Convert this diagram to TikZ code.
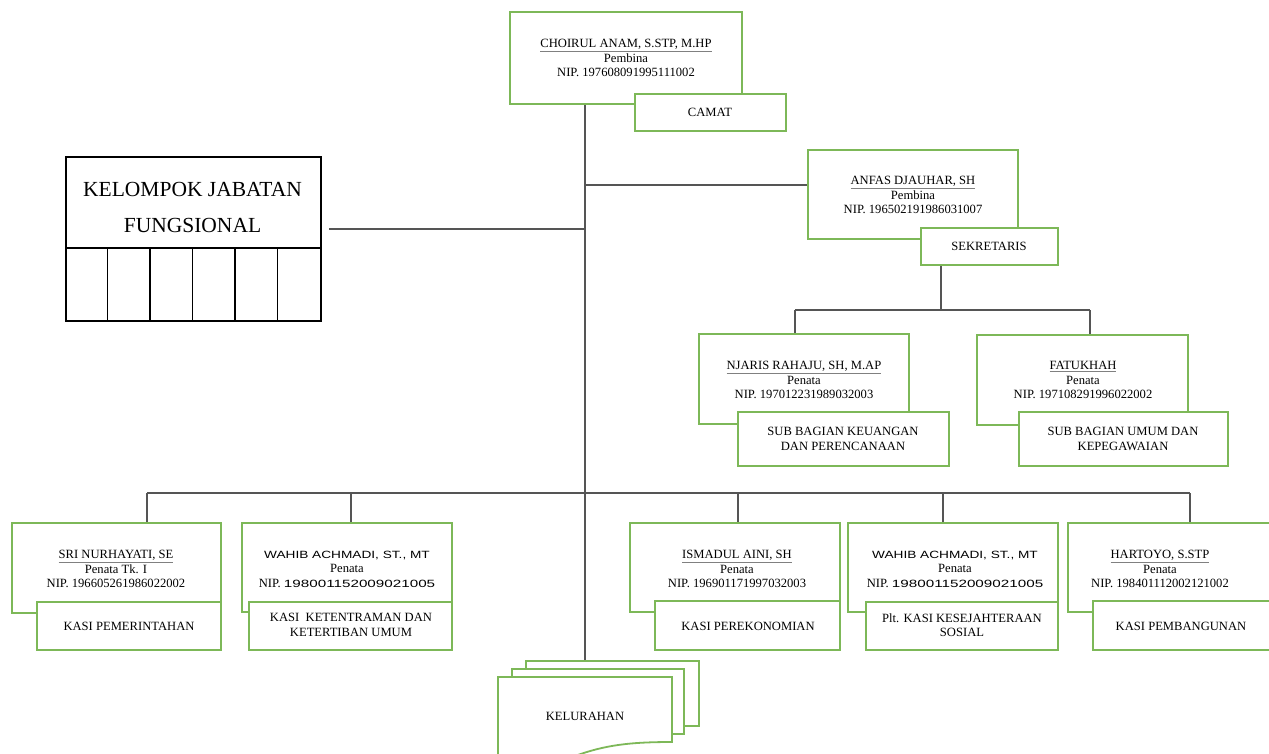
\documentclass[tikz,border=0pt]{standalone}
\usepackage{fontspec}
\setmainfont{Liberation Serif}
\newfontfamily\wsans[FakeStretch=1.3]{Liberation Sans}
\newfontfamily\wdig[FakeStretch=1.45]{Liberation Sans}
\definecolor{boxgreen}{HTML}{7DB858}
\definecolor{linegray}{HTML}{555555}
\definecolor{ulgray}{HTML}{808080}
\newcommand{\nameul}[1]{\textcolor{ulgray}{\underline{\textcolor{black}{#1}}}}
\newcommand{\orgbox}[5]{\node[gbox, minimum width={(#4-#2)*1pt}, minimum height={(#5-#3)*1pt}] (#1) at (#2,#3) {};}
\tikzset{
  gbox/.style={draw=boxgreen, line width=1.8pt, fill=white, inner sep=0pt, outer sep=0pt, anchor=north west},
  conn/.style={draw=linegray, line width=1.4pt},
  ptext/.style={align=center, inner sep=0pt, font=\fontsize{12.6}{14.5}\selectfont},
  fbig/.style={align=center, inner sep=0pt, font=\fontsize{21.5}{36}\selectfont},
  page/.style={draw=boxgreen, line width=1.8pt, fill=white},
}
\begin{document}
\begin{tikzpicture}[x=1pt,y=-1pt]
\clip (0,0) rectangle (1269,753);
\fill[white] (0,0) rectangle (1269,753);

% named junction coordinates
\coordinate (top) at (585,104);
\coordinate (jA) at (585,185);
\coordinate (jF) at (585,229);
\coordinate (fl) at (329,229);
\coordinate (busL) at (147,493);
\coordinate (busR) at (1190,493);
\coordinate (kel) at (585,661);
\coordinate (sekJ) at (941,310);
\coordinate (sekL) at (795,310);
\coordinate (sekR) at (1090,310);
\coordinate (b1) at (147,493);
\coordinate (b2) at (351,493);
\coordinate (b3) at (738,493);
\coordinate (b4) at (943,493);
\coordinate (b5) at (1190,493);

% connectors
\draw[conn] (top) -- (kel);
\draw[conn] (jA) -- (808,185) coordinate (anfasW);
\draw[conn] (fl) -- (jF);
\draw[conn] (busL) -- (busR);
\draw[conn] (941,265) coordinate (sekB) -- (sekJ);
\draw[conn] (sekL) -- (sekR);
\draw[conn] (sekL) -- (795,334) coordinate (njT);
\draw[conn] (sekR) -- (1090,335) coordinate (faT);
\draw[conn] (b1) -- (147,523) coordinate (t1);
\draw[conn] (b2) -- (351,523) coordinate (t2);
\draw[conn] (b3) -- (738,523) coordinate (t3);
\draw[conn] (b4) -- (943,523) coordinate (t4);
\draw[conn] (b5) -- (1190,523) coordinate (t5);

% KELOMPOK JABATAN FUNGSIONAL
\node[draw=black, line width=1.8pt, inner sep=0pt, anchor=north west, minimum width=255pt, minimum height=164pt] (kjf) at (65,156) {};
\draw[black, line width=1.8pt] (65,248) coordinate (kd1) -- (320,248) coordinate (kd2);
\foreach \xx in {107.5,150,192.5,235,277.5} {\draw[black, line width=1.8pt] (\xx,248) -- (\xx,320);}
\node[fbig] (kjftext) at (192.5,207) {KELOMPOK JABATAN\\FUNGSIONAL};

% boxes
\orgbox{chief}{510}{12}{742}{104}
\orgbox{camat}{635}{94}{786}{131}
\orgbox{anfas}{808}{150}{1018}{239}
\orgbox{sekr}{921}{228}{1058}{265}
\orgbox{njaris}{699}{334}{909}{424}
\orgbox{subkeu}{738}{412}{949}{466}
\orgbox{fatukhah}{977}{335}{1188}{425}
\orgbox{subumum}{1019}{412}{1228}{466}
\orgbox{sri}{12}{523}{221}{613}
\orgbox{kasipem}{37}{602}{221}{650}
\orgbox{wahibA}{242}{523}{452}{612}
\orgbox{kasiket}{249}{602}{452}{650}
\orgbox{ismadul}{630}{523}{840}{612}
\orgbox{kasiper}{655}{601}{840}{650}
\orgbox{wahibB}{848}{523}{1058}{612}
\orgbox{kasikes}{866}{602}{1058}{650}
\orgbox{hartoyo}{1068}{523}{1285}{612}
\orgbox{kasipemb}{1093}{601}{1285}{650}

% texts in person boxes
\node[ptext] (tchief) at (626,58) {\nameul{CHOIRUL ANAM, S.STP, M.HP}\\Pembina\\NIP. 197608091995111002};
\node[ptext] (tanfas) at (913,195) {\nameul{ANFAS DJAUHAR, SH}\\Pembina\\NIP. 196502191986031007};
\node[ptext] (tnjaris) at (804,380) {\nameul{NJARIS RAHAJU, SH, M.AP}\\Penata\\NIP. 197012231989032003};
\node[ptext] (tfatukhah) at (1083,380) {\nameul{FATUKHAH}\\Penata\\NIP. 197108291996022002};
\node[ptext] (tsri) at (116,569) {\nameul{SRI NURHAYATI, SE}\\Penata Tk. I\\NIP. 196605261986022002};
\node[ptext] (twahibA) at (347,569) {{\fontsize{10.5}{14.5}\wsans WAHIB ACHMADI, ST., MT}\\Penata\\NIP. {\fontsize{10.5}{14.5}\wdig 198001152009021005}};
\node[ptext] (tismadul) at (737,569) {\nameul{ISMADUL AINI, SH}\\Penata\\NIP. 196901171997032003};
\node[ptext] (twahibB) at (955,569) {{\fontsize{10.5}{14.5}\wsans WAHIB ACHMADI, ST., MT}\\Penata\\NIP. {\fontsize{10.5}{14.5}\wdig 198001152009021005}};
\node[ptext] (thartoyo) at (1160,569) {\nameul{HARTOYO, S.STP}\\Penata\\NIP. 198401112002121002};

% texts in title boxes
\node[ptext] (tcamat) at (710,112) {CAMAT};
\node[ptext] (tsekr) at (989,246) {SEKRETARIS};
\node[ptext] (tsubkeu) at (843,439) {SUB BAGIAN KEUANGAN\\DAN PERENCANAAN};
\node[ptext] (tsubumum) at (1123,439) {SUB BAGIAN UMUM DAN\\KEPEGAWAIAN};
\node[ptext] (tkasipem) at (129,626) {KASI PEMERINTAHAN};
\node[ptext] (tkasiket) at (351,625) {KASI\ \ KETENTRAMAN DAN\\KETERTIBAN UMUM};
\node[ptext] (tkasiper) at (748,626) {KASI PEREKONOMIAN};
\node[ptext] (tkasikes) at (962,625) {Plt. KASI KESEJAHTERAAN\\SOSIAL};
\node[ptext] (tkasipemb) at (1181,626) {KASI PEMBANGUNAN};

% KELURAHAN stacked pages
\draw[page] (526,661) rectangle (699,726);
\draw[page] (512,669) rectangle (684,734);
\draw[page] (498,677) -- (672,677) -- (672,742) .. controls (630,742) and (605,745) .. (575,756) -- (498,780) -- cycle;
\node[ptext] (tkel) at (585,716) {KELURAHAN};
\end{tikzpicture}
\end{document}
